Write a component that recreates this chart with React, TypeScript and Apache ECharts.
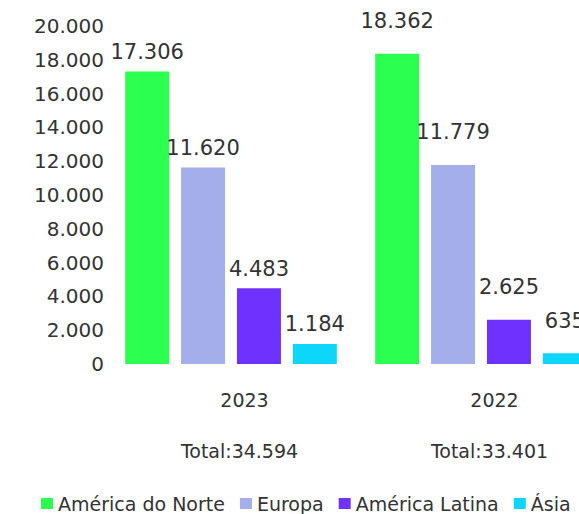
import React, { useEffect, useRef } from "react";
import * as echarts from "echarts";

const years = ["2023", "2022"];
const totals = [34594, 33401];
const seriesNames = ["América do Norte", "Europa", "América Latina", "Ásia"];
const americaNorte = [17306, 18362];
const europa = [11620, 11779];
const americaLatina = [4483, 2625];
const asia = [1184, 635];
const yTicks = { min: 0, max: 20000, interval: 2000 };

const colors = ["#2BFF50", "#A4AEEB", "#6E32FF", "#0CD6F9"];
const FONT = "DejaVu Sans";
const TEXT = "#333333";

function fmt(n: number): string {
  return String(n).replace(/\B(?=(\d{3})+(?!\d))/g, ".");
}

export default function App() {
  const ref = useRef<HTMLDivElement>(null);
  useEffect(() => {
    if (!ref.current) return;
    const chart = echarts.init(ref.current, undefined, { renderer: "svg" });
    const values = [americaNorte, europa, americaLatina, asia];
    const labelDistance = [9, 22];
    chart.setOption({
      animation: false,
      color: colors,
      textStyle: { fontFamily: FONT },
      grid: { left: 106, top: 26, width: 500, height: 338, containLabel: false },
      legend: {
        left: 41,
        top: 494,
        padding: 0,
        itemWidth: 12,
        itemHeight: 11,
        itemGap: 15,
        icon: "rect",
        textStyle: { fontFamily: FONT, fontSize: 19, color: TEXT },
        data: seriesNames,
      },
      xAxis: {
        type: "category",
        data: years,
        axisLine: { show: false },
        axisTick: { show: false },
        axisLabel: {
          margin: 10,
          padding: [0, 0, 0, 17],
          formatter: (v: string, i: number) => `{y|${v}}\n{t|Total:${fmt(totals[i])}}`,
          rich: {
            y: { fontFamily: FONT, fontSize: 19, color: TEXT, lineHeight: 51, padding: [0, 0, 0, 10] },
            t: { fontFamily: FONT, fontSize: 19, color: TEXT, lineHeight: 51 },
          },
        },
      },
      yAxis: {
        type: "value",
        min: yTicks.min,
        max: yTicks.max,
        interval: yTicks.interval,
        splitLine: { show: false },
        axisLine: { show: false },
        axisTick: { show: false },
        axisLabel: {
          margin: 2,
          fontFamily: FONT,
          fontSize: 20,
          color: TEXT,
          formatter: (v: number) => fmt(v),
        },
      },
      series: seriesNames.map((name, s) => ({
        name,
        type: "bar",
        barWidth: 44,
        barGap: "27%",
        barCategoryGap: "15%",
        data: values[s].map((v, i) => ({
          value: v,
          label: { distance: labelDistance[i] },
        })),
        itemStyle: { color: colors[s] },
        label: {
          show: true,
          position: "top",
          fontFamily: FONT,
          fontSize: 21,
          color: TEXT,
          formatter: (p: any) => fmt(p.value),
        },
      })),
    });
    return () => chart.dispose();
  }, []);
  return (
    <div
      style={{
        position: "absolute",
        left: 0,
        top: 0,
        width: 579,
        height: 514,
        overflow: "hidden",
        background: "#fff",
      }}
    >
      <div ref={ref} style={{ width: 640, height: 514 }} />
    </div>
  );
}
